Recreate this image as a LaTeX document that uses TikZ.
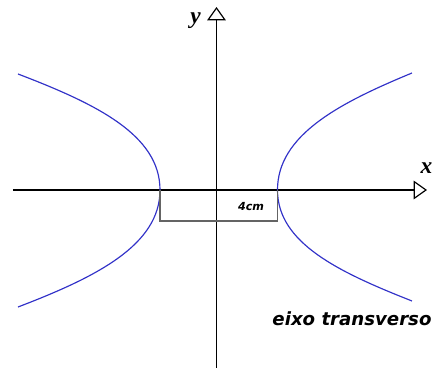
\documentclass[tikz,border=0pt]{standalone}
\usepackage{fontspec}
\usetikzlibrary{arrows.meta}
\setmainfont{Liberation Serif}
\newfontfamily\labelfont{DejaVu Sans}
\definecolor{curveblue}{RGB}{50,50,200}
\definecolor{bracegray}{RGB}{100,100,100}

\begin{document}
\begin{tikzpicture}[x=0.03cm, y=0.03cm,
    axis/.style={line width=1pt, -{Triangle[open, length=0.4cm, width=0.56cm, fill=white]}},
    branch/.style={draw=curveblue, line width=1pt}]
    \useasboundingbox (-216.5,-181) rectangle (218.5,190);

    \coordinate (xstart) at (-203.5,0);
    \coordinate (xend) at (210.5,0);
    \coordinate (ystart) at (0,-178);
    \coordinate (yend) at (0,183);
    \coordinate (lvertex) at (-56.5,0);
    \coordinate (rvertex) at (61,0);
    \coordinate (ltop) at (-198.5,116);
    \coordinate (lbottom) at (-198.5,-117);
    \coordinate (rtop) at (195.5,117);
    \coordinate (rbottom) at (195.5,-111);

    \draw[axis] (xstart) -- (xend);
    \draw[axis] (ystart) -- (yend);

    % the two branches
    \draw[branch] (ltop) .. controls (-120,86) and (-56.5,55) .. (lvertex)
        .. controls (-56.5,-55) and (-120,-87) .. (lbottom);
    \draw[branch] (rtop) .. controls (123,87) and (61,55) .. (rvertex)
        .. controls (61,-53) and (122,-82) .. (rbottom);

    \draw[bracegray, line width=1.2pt] (lvertex) -- ++(0,-31) -| (rvertex);

    \node (ylabel) at (-21,169) {\fontsize{20}{22}\selectfont\bfseries\itshape y};
    \node (xlabel) at (210,22) {\fontsize{20}{22}\selectfont\bfseries\itshape x};
    \node (dist) at (34.5,-17) {\labelfont\fontsize{9.5}{11}\selectfont\bfseries\itshape 4cm};
    \node (axisname) at (135.5,-129) {\labelfont\fontsize{15.5}{18}\selectfont\bfseries\itshape eixo transverso};
\end{tikzpicture}
\end{document}
